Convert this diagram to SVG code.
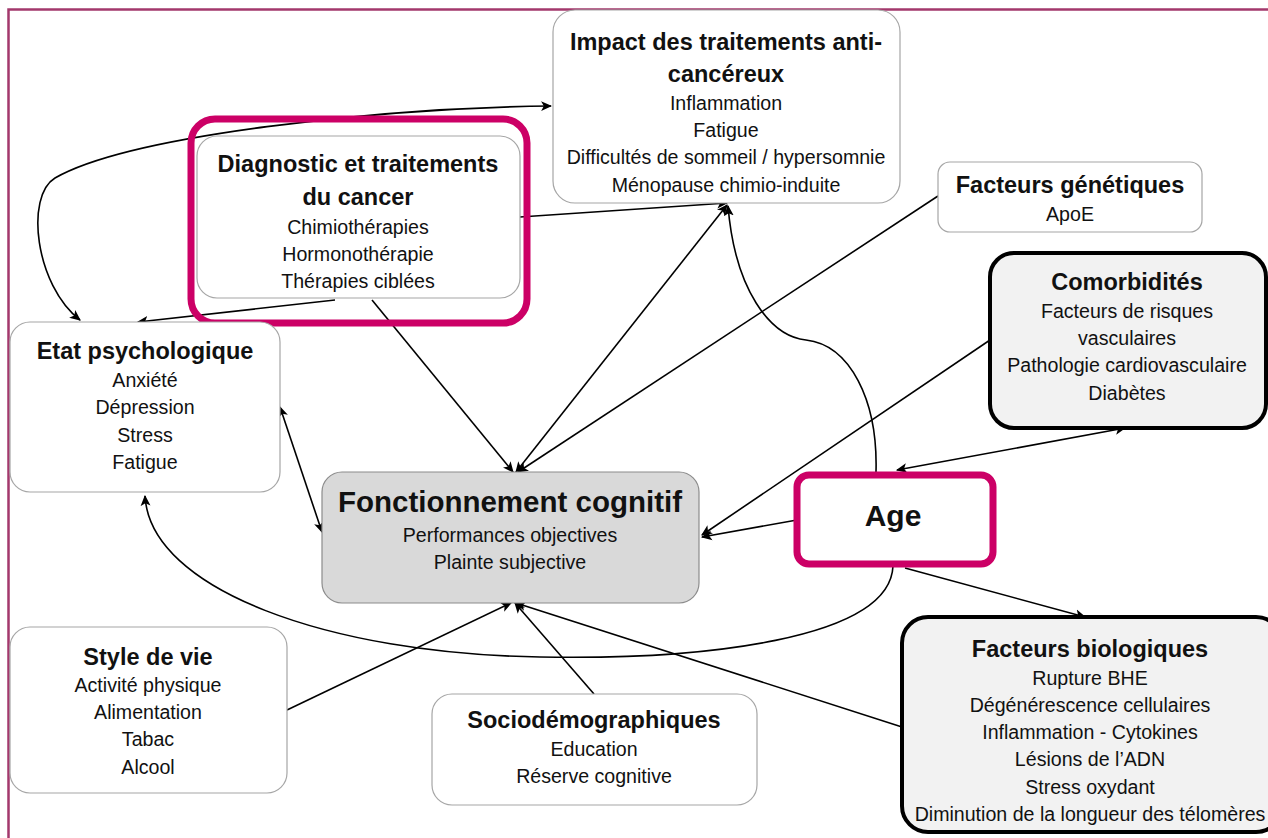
<svg xmlns="http://www.w3.org/2000/svg" width="1268" height="838" viewBox="0 0 1268 838">
<defs>
<marker id="ah" viewBox="0 0 10 10" refX="9" refY="5" markerWidth="11" markerHeight="11" markerUnits="userSpaceOnUse" orient="auto-start-reverse">
<path d="M0,0.5 L10,5 L0,9.5 L2.5,5 Z" fill="#000"/>
</marker>
<style>
.t{font-family:"Liberation Sans",Arial,sans-serif;text-anchor:middle;fill:#111}
.h{font-weight:bold;font-size:23.5px}
.s{font-size:19.6px}
.box{fill:#fff;stroke:#a6a6a6;stroke-width:1.2}
.thick{fill:#f2f2f2;stroke:#000;stroke-width:4}
.hl{fill:none;stroke:#cc0066;stroke-width:7}
.c{fill:none;stroke:#000;stroke-width:1.6}
</style>
</defs>
<rect width="1268" height="838" fill="#fff"/>
<path d="M8.5,838 V9.5 H1268" fill="none" stroke="#a3386c" stroke-width="2.5"/>

<g id="connectors">
<path class="c" d="M551,106 C380,108 130,135 55,178 C25,196 35,285 80,320" marker-start="url(#ah)" marker-end="url(#ah)"/>
<path class="c" d="M335,300 L138,322" marker-end="url(#ah)"/>
<path class="c" d="M520,217 L727,203" marker-end="url(#ah)"/>
<path class="c" d="M372,300 L513,472" marker-end="url(#ah)"/>
<path class="c" d="M516,472 L727,205" marker-start="url(#ah)" marker-end="url(#ah)"/>
<path class="c" d="M938,196 L518,472" marker-end="url(#ah)"/>
<path class="c" d="M876,472 C878,400 850,345 806,340 C770,336 735,290 728,206" marker-end="url(#ah)"/>
<path class="c" d="M990,340 L702,535" marker-end="url(#ah)"/>
<path class="c" d="M797,520 L702,537" marker-end="url(#ah)"/>
<path class="c" d="M897,470 L1125,428" marker-start="url(#ah)" marker-end="url(#ah)"/>
<path class="c" d="M905,568 L1085,617" marker-end="url(#ah)"/>
<path class="c" d="M893,566 C890,640 700,660 540,657 C330,654 150,590 145,496" marker-end="url(#ah)"/>
<path class="c" d="M280,407 L322,532" marker-start="url(#ah)" marker-end="url(#ah)"/>
<path class="c" d="M287,710 L511,603" marker-end="url(#ah)"/>
<path class="c" d="M594,694 L515,603" marker-end="url(#ah)"/>
<path class="c" d="M902,727 L516,603" marker-end="url(#ah)"/>
</g>

<g id="impact">
<rect class="box" x="553" y="10" width="347" height="193" rx="22"/>
<text class="t h" x="726" y="50">Impact des traitements anti-</text>
<text class="t h" x="726" y="82">cancéreux</text>
<text class="t s" x="726" y="110">Inflammation</text>
<text class="t s" x="726" y="137">Fatigue</text>
<text class="t s" x="726" y="164">Difficultés de sommeil / hypersomnie</text>
<text class="t s" x="726" y="192">Ménopause chimio-induite</text>
</g>

<g id="diagnostic">
<rect class="box" x="197" y="136" width="323" height="162" rx="20"/>
<rect class="hl" x="191" y="119" width="336" height="204" rx="24"/>
<text class="t h" x="358" y="172">Diagnostic et traitements</text>
<text class="t h" x="358" y="205">du cancer</text>
<text class="t s" x="358" y="234">Chimiothérapies</text>
<text class="t s" x="358" y="261">Hormonothérapie</text>
<text class="t s" x="358" y="288">Thérapies ciblées</text>
</g>

<g id="genetiques">
<rect class="box" x="938" y="162" width="264" height="70" rx="12"/>
<text class="t h" x="1070" y="193">Facteurs génétiques</text>
<text class="t s" x="1070" y="221">ApoE</text>
</g>

<g id="comorbidites">
<rect class="thick" x="990" y="253" width="276" height="175" rx="24"/>
<text class="t h" x="1127" y="290">Comorbidités</text>
<text class="t s" x="1127" y="318">Facteurs de risques</text>
<text class="t s" x="1127" y="345">vasculaires</text>
<text class="t s" x="1127" y="372">Pathologie cardiovasculaire</text>
<text class="t s" x="1127" y="400">Diabètes</text>
</g>

<g id="etat">
<rect class="box" x="10" y="322" width="270" height="170" rx="20"/>
<text class="t h" x="145" y="359">Etat psychologique</text>
<text class="t s" x="145" y="387">Anxiété</text>
<text class="t s" x="145" y="414">Dépression</text>
<text class="t s" x="145" y="442">Stress</text>
<text class="t s" x="145" y="469">Fatigue</text>
</g>

<g id="fonctionnement">
<rect x="322" y="472" width="377" height="131" rx="20" fill="#d9d9d9" stroke="#8c8c8c" stroke-width="1.2"/>
<text class="t" x="510" y="512" font-weight="bold" font-size="29.5px">Fonctionnement cognitif</text>
<text class="t s" x="510" y="542">Performances objectives</text>
<text class="t s" x="510" y="569">Plainte subjective</text>
</g>

<g id="age">
<rect x="797" y="475" width="196" height="89" rx="12" fill="#fff" stroke="#cc0066" stroke-width="7"/>
<text class="t" x="893" y="526" font-weight="bold" font-size="30px">Age</text>
</g>

<g id="style">
<rect class="box" x="10" y="627" width="277" height="166" rx="20"/>
<text class="t h" x="148" y="665">Style de vie</text>
<text class="t s" x="148" y="692">Activité physique</text>
<text class="t s" x="148" y="719">Alimentation</text>
<text class="t s" x="148" y="746">Tabac</text>
<text class="t s" x="148" y="774">Alcool</text>
</g>

<g id="socio">
<rect class="box" x="432" y="694" width="325" height="111" rx="20"/>
<text class="t h" x="594" y="728">Sociodémographiques</text>
<text class="t s" x="594" y="756">Education</text>
<text class="t s" x="594" y="783">Réserve cognitive</text>
</g>

<g id="biologiques">
<rect class="thick" x="902" y="617" width="380" height="215" rx="26"/>
<text class="t h" x="1090" y="657">Facteurs biologiques</text>
<text class="t s" x="1090" y="685">Rupture BHE</text>
<text class="t s" x="1090" y="712">Dégénérescence cellulaires</text>
<text class="t s" x="1090" y="739">Inflammation - Cytokines</text>
<text class="t s" x="1090" y="766">Lésions de l’ADN</text>
<text class="t s" x="1090" y="794">Stress oxydant</text>
<text class="t s" x="1090" y="821">Diminution de la longueur des télomères</text>
</g>
</svg>
